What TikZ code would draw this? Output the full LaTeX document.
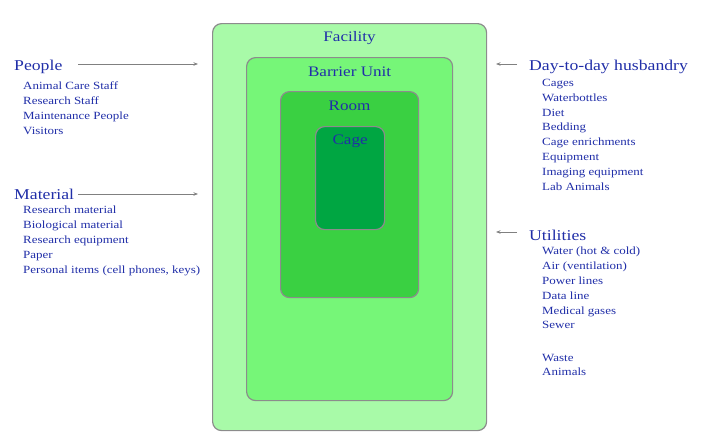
\documentclass[tikz,border=0pt]{standalone}
\usepackage{fontspec}
\setmainfont{Liberation Serif}[FakeStretch=1.18]
\usetikzlibrary{positioning,arrows.meta}

\definecolor{facgreen}{RGB}{168,250,168}
\definecolor{bargreen}{RGB}{118,246,120}
\definecolor{roomgreen}{RGB}{58,208,66}
\definecolor{cagegreen}{RGB}{0,166,66}
\definecolor{inkblue}{RGB}{32,46,168}
\definecolor{edgegray}{RGB}{140,140,140}

\begin{document}
\begin{tikzpicture}[x=1pt,y=-1pt]
\tikzset{zone/.style={draw=edgegray,line width=1.2pt,rounded corners=9pt,anchor=north west,inner sep=0pt},
         title/.style={text=inkblue,font=\fontsize{14.5}{16}\selectfont,inner sep=0pt},
         head/.style={text=inkblue,font=\fontsize{15}{18}\selectfont,inner sep=0pt,anchor=west},
         items/.style={text=inkblue,font=\fontsize{11}{14.8}\selectfont,inner sep=0pt,align=left,anchor=north west},
         feed/.style={draw=gray,line width=0.9pt,-{Stealth[length=4.5pt,width=3.5pt]}}}
\useasboundingbox (0,0) rectangle (701,431);

% nested zones
\node[zone,fill=facgreen,minimum width=274pt,minimum height=407pt] (facility) at (212,23) {};
\node[zone,fill=bargreen,minimum width=206pt,minimum height=343pt] (barrier) at (246,57) {};
\node[zone,fill=roomgreen,minimum width=138pt,minimum height=206pt] (room) at (280,91) {};
\node[zone,fill=cagegreen,minimum width=69pt,minimum height=103pt] (cage) at (315,126) {};

\node[title] (factitle) at ([yshift=-15pt]facility.north) {Facility};
\node[title] (bartitle) at ([yshift=-15pt]barrier.north) {Barrier Unit};
\node[title] (roomtitle) at ([yshift=-15pt]room.north) {Room};
\node[title] (cagetitle) at ([yshift=-15pt]cage.north) {Cage};

% left side: what comes in
\node[head] (people) at (14,67) {People};
\node[items] (peoplelist) at (23,82) {Animal Care Staff\\Research Staff\\Maintenance People\\Visitors};
\node[head] (material) at (14,194) {Material};
\node[items] (materiallist) at (23,206) {Research material\\Biological material\\Research equipment\\Paper\\Personal items (cell phones, keys)};

% right side: husbandry and utilities
\node[head] (husbandry) at (529,67) {Day-to-day husbandry};
\node[items] (husbandrylist) at (542,79) {Cages\\Waterbottles\\Diet\\Bedding\\Cage enrichments\\Equipment\\Imaging equipment\\Lab Animals};
\node[head] (utilities) at (529,235) {Utilities};
\node[items] (utilitieslist) at (542,247) {Water (hot \& cold)\\Air (ventilation)\\Power lines\\Data line\\Medical gases\\Sewer\\[17.5pt]Waste\\Animals};

\coordinate (peopleIn) at (198,64);
\coordinate (materialIn) at (198,194);
\coordinate (husbandryIn) at (496,64);
\coordinate (utilitiesIn) at (496,232);
\draw[feed] (people.east -| 78,0) ++(0,-3) -- (peopleIn);
\draw[feed] (material.east -| 78,0) -- (materialIn);
\draw[feed] (husbandry.west -| 517,0) ++(0,-3) -- (husbandryIn);
\draw[feed] (utilities.west -| 517,0) ++(0,-3) -- (utilitiesIn);
\end{tikzpicture}
\end{document}
